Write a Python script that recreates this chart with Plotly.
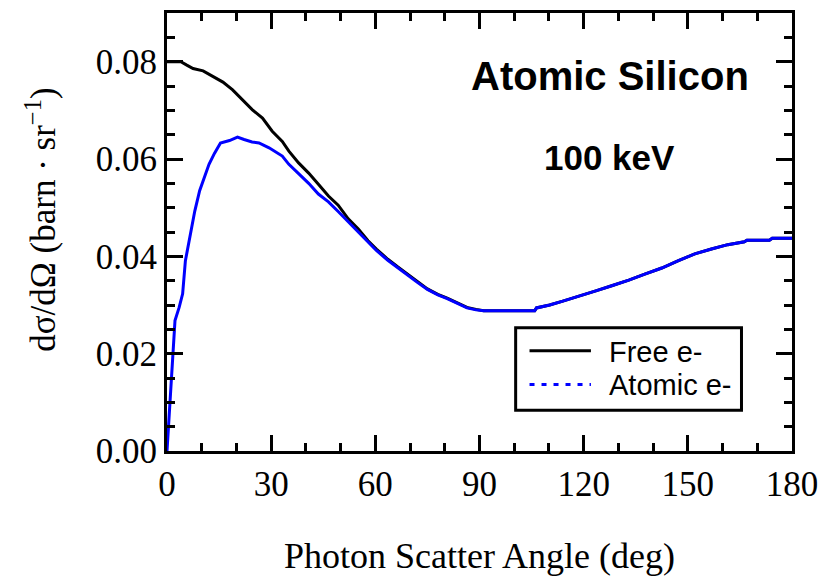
import plotly.graph_objects as go

# Free-electron (Klein-Nishina-like) curve
free_angle = [0, 2, 4, 5.7, 7.5, 10.4, 13.2, 16.1, 18.9, 21.8, 24.6, 27.5, 30.3, 33.2,
              35.1, 37.9, 40.8, 43.6, 46.5, 49.3, 52.2, 55.1, 57.9, 60.3, 63.6, 66.5,
              69.3, 72, 75, 78, 80.7, 83.5, 86.4, 89, 91.2, 100, 105.9, 106.4, 110.2,
              114, 118.8, 123.5, 128.3, 133, 137.8, 142.5, 147.3, 152, 156.8, 161.5,
              166.3, 167, 173.5, 174.3, 180]
free_val = [0.0800, 0.0800, 0.0800, 0.0793, 0.0786, 0.0781, 0.0769, 0.0758, 0.0742,
            0.0722, 0.0701, 0.0684, 0.0657, 0.0636, 0.0616, 0.0592, 0.0571, 0.0548,
            0.0524, 0.0505, 0.0477, 0.0456, 0.0432, 0.0415, 0.0394, 0.0378, 0.0364,
            0.0349, 0.0333, 0.0322, 0.0314, 0.0304, 0.0295, 0.0291, 0.0288, 0.0288,
            0.0288, 0.0294, 0.0300, 0.0308, 0.0318, 0.0329, 0.0340, 0.0351, 0.0364,
            0.0376, 0.0391, 0.0405, 0.0415, 0.0424, 0.0430, 0.0433, 0.0433, 0.0437,
            0.0437]

# Atomic-electron (bound) curve
atomic_angle = [0, 0.9, 1.6, 2.3, 3.5, 4.5, 5.3, 6.1, 6.8, 8.0, 9.4, 10.8, 12.1, 13.7,
                15.4, 18.0, 20.3, 22.2, 24.5, 26.5, 29.4, 33.2, 35.1, 37.9, 40.8, 43.6,
                46.5, 49.3, 52.2, 55.1, 57.9, 60.3, 63.6, 66.5, 69.3, 72, 75, 78, 80.7,
                83.5, 86.4, 89, 91.2, 100, 105.9, 106.4, 110.2, 114, 118.8, 123.5, 128.3,
                133, 137.8, 142.5, 147.3, 152, 156.8, 161.5, 166.3, 167, 173.5, 174.3, 180]
atomic_val = [0.0, 0.0104, 0.0207, 0.0268, 0.0295, 0.0323, 0.0391, 0.0420, 0.0452,
              0.0493, 0.0535, 0.0561, 0.0589, 0.0612, 0.0633, 0.0638, 0.0645, 0.0640,
              0.0635, 0.0633, 0.0623, 0.0606, 0.0589, 0.0570, 0.0550, 0.0528, 0.0512,
              0.0492, 0.0471, 0.0450, 0.0429, 0.0412, 0.0392, 0.0376, 0.0362, 0.0347,
              0.0332, 0.0321, 0.0313, 0.0303, 0.0294, 0.0290, 0.0288, 0.0288, 0.0288,
              0.0294, 0.0300, 0.0308, 0.0318, 0.0329, 0.0340, 0.0351, 0.0364, 0.0376,
              0.0391, 0.0405, 0.0415, 0.0424, 0.0430, 0.0433, 0.0433, 0.0437, 0.0437]

x_ticks = [0, 30, 60, 90, 120, 150, 180]
y_ticks = [0.00, 0.02, 0.04, 0.06, 0.08]
legend_names = ["Free e-", "Atomic e-"]

SERIF = "Liberation Serif, Times New Roman, serif"
SANS = "Liberation Sans, Arial, sans-serif"

fig = go.Figure()
fig.add_trace(go.Scatter(x=free_angle, y=free_val, mode="lines",
                         line=dict(color="black", width=3), name=legend_names[0],
                         showlegend=False))
fig.add_trace(go.Scatter(x=atomic_angle, y=atomic_val, mode="lines",
                         line=dict(color="#0000ff", width=3), name=legend_names[1],
                         showlegend=False))

axis_common = dict(showgrid=False, zeroline=False, showline=True, linecolor="black",
                   linewidth=3, mirror="ticks", ticks="inside", ticklen=16,
                   tickwidth=2.5, tickcolor="black",
                   tickfont=dict(family=SERIF, size=35, color="black"))

fig.update_xaxes(range=[0, 180], tickvals=x_ticks,
                 ticktext=[str(v) for v in x_ticks],
                 minor=dict(dtick=10, ticks="inside", ticklen=8, tickwidth=2.5,
                            tickcolor="black"),
                 title=dict(text="Photon Scatter Angle (deg)",
                            font=dict(family=SERIF, size=36, color="black"),
                            standoff=40),
                 **axis_common)
fig.update_yaxes(range=[0, 0.09], tickvals=y_ticks,
                 ticktext=[f"{v:.2f}" for v in y_ticks],
                 minor=dict(dtick=0.005, ticks="inside", ticklen=8, tickwidth=2.5,
                            tickcolor="black"),
                 **axis_common)

W, H = 828, 580
L, R, T, B = 167, 30, 10, 129
pw, ph = W - L - R, H - T - B

def px(x):
    return (x - L) / pw

def py(y):
    return (H - B - y) / ph

annotations = [
    dict(text="dσ/dΩ (barn · sr<sup>−1</sup>)", textangle=-90, x=px(40), y=py(218),
         xref="paper", yref="paper", showarrow=False, xanchor="center", yanchor="middle",
         font=dict(family=SERIF, size=35, color="black")),
    dict(text="<b>Atomic Silicon</b>", x=px(614), y=py(73), xref="paper", yref="paper",
         showarrow=False, xanchor="center", yanchor="middle",
         font=dict(family=SANS, size=40, color="black")),
    dict(text="<b>100 keV</b>", x=px(614), y=py(155), xref="paper", yref="paper",
         showarrow=False, xanchor="center", yanchor="middle",
         font=dict(family=SANS, size=35, color="black")),
    dict(text=legend_names[0], x=px(611), y=py(351), xref="paper", yref="paper",
         showarrow=False, xanchor="left", yanchor="middle",
         font=dict(family=SANS, size=29, color="black")),
    dict(text=legend_names[1], x=px(611), y=py(385), xref="paper", yref="paper",
         showarrow=False, xanchor="left", yanchor="middle",
         font=dict(family=SANS, size=29, color="black")),
]

shapes = [
    dict(type="rect", xref="paper", yref="paper", x0=px(519), x1=px(747),
         y0=py(410), y1=py(327), line=dict(color="black", width=3),
         fillcolor="white"),
    dict(type="line", xref="paper", yref="paper", x0=px(533), x1=px(595),
         y0=py(350), y1=py(350), line=dict(color="black", width=3)),
    dict(type="line", xref="paper", yref="paper", x0=px(533), x1=px(595),
         y0=py(384), y1=py(384), line=dict(color="#0000ff", width=3, dash="5px,7px")),
]

fig.update_layout(width=W, height=H, margin=dict(l=L, r=R, t=T, b=B),
                  paper_bgcolor="white", plot_bgcolor="white",
                  annotations=annotations, shapes=shapes, showlegend=False)

fig.write_html("out.html")
